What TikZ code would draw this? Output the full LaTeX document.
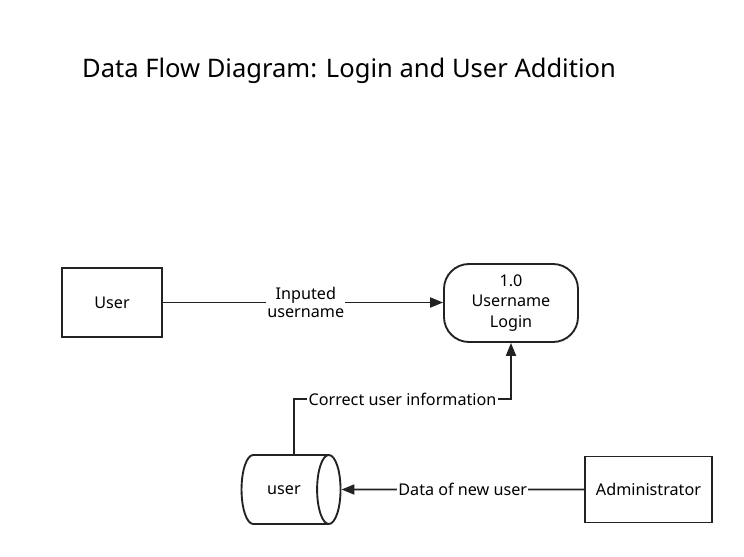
\documentclass[tikz,border=0pt]{standalone}
\usepackage{fontspec}
\setmainfont{Noto Sans}
\usetikzlibrary{arrows.meta,shapes.geometric,positioning}
\definecolor{ln}{RGB}{34,34,34}
\tikzset{
  entity/.style={draw=ln, line width=1.6pt, minimum width=3cm, minimum height=2.07cm, font=\fontsize{13.8}{16}\selectfont},
  process/.style={draw=ln, line width=1.6pt, rounded corners=0.75cm, minimum width=4.02cm, minimum height=2.34cm, align=center, font=\fontsize{13.8}{17.5}\selectfont},
  store/.style={draw=ln, line width=1.6pt, cylinder, aspect=3, minimum width=2.07cm, minimum height=2.97cm, font=\fontsize{13.8}{16}\selectfont},
  flow/.style={draw=ln, line width=1.6pt, -{Triangle[length=11pt,width=8.5pt]}},
  flowlabel/.style={fill=white, inner sep=1pt, align=center, font=\fontsize{13.8}{16}\selectfont}
}
\begin{document}
\begin{tikzpicture}[x=0.03cm,y=-0.03cm]
\useasboundingbox (0,0) rectangle (744,557);
\node[anchor=west, font=\fontsize{21.8}{26}\selectfont] (title) at (78,71) {Data Flow Diagram: Login and User Addition};
% entities and process
\node[entity] (user) at (112,302.5) {User};
\node[process] (login) at (511,303) {1.0\\Username\\Login};
\node[store] (db) at (282,489.5) {};
\node (dbtext) at (284,490) {\fontsize{13.8}{16}\selectfont user};
\node[entity, minimum width=3.81cm, minimum height=1.98cm] (admin) at (648.5,489.5) {Administrator};
% flows
\coordinate (c1) at (294,399);
\draw[flow] (user.east) -- node[flowlabel, pos=0.51]{Inputed\\[-1pt]username} (login.west |- user.east);
\draw[flow] (c1 |- db.north) -- (c1) -- node[flowlabel]{Correct user information} (c1 -| login.south) -- (login.south);
\draw[flow] (admin.west) -- node[flowlabel]{Data of new user} (db.east);
\end{tikzpicture}
\end{document}
